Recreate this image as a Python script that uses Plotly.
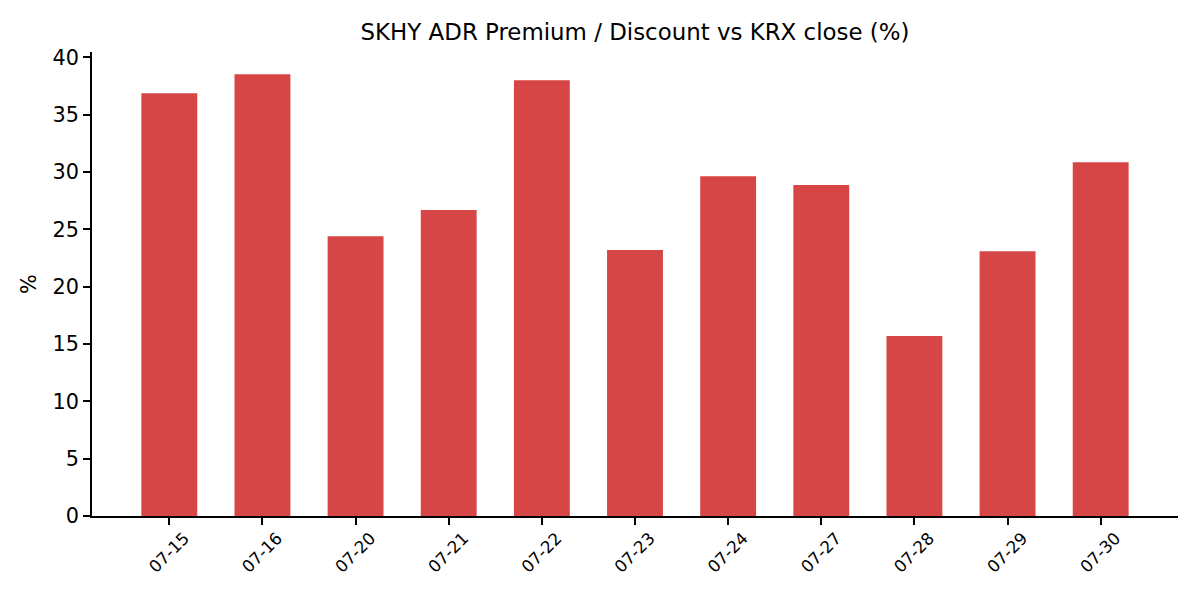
import plotly.graph_objects as go

# Daily ADR premium / discount against KRX close
dates = ["07-15", "07-16", "07-20", "07-21", "07-22", "07-23",
         "07-24", "07-27", "07-28", "07-29", "07-30"]
premium_pct = [36.88, 38.54, 24.41, 26.68, 38.01, 23.19,
               29.64, 28.86, 15.69, 23.10, 30.86]
y_ticks = [0, 5, 10, 15, 20, 25, 30, 35, 40]

fig = go.Figure(
    go.Bar(
        x=list(range(len(dates))),
        y=premium_pct,
        width=0.6,
        marker=dict(color="#d64646", line=dict(width=0)),
    )
)

# page body adds ~8px offset, so margins are shifted to compensate
fig.update_layout(
    width=1200,
    height=600,
    paper_bgcolor="white",
    plot_bgcolor="white",
    font=dict(family="DejaVu Sans", color="black"),
    title=dict(
        text="SKHY ADR Premium / Discount vs KRX close (%)",
        xref="paper", x=0.5, xanchor="center", y=0.96, yanchor="middle",
        font=dict(size=22.9),
    ),
    margin=dict(l=84, r=30, t=44, b=92),
    showlegend=False,
)

fig.update_xaxes(
    range=[-0.83, 10.83],
    tickmode="array",
    tickvals=list(range(len(dates))),
    ticktext=dates,
    tickangle=-45,
    tickfont=dict(size=16.7),
    ticklabelshift=15,
    ticklabelstandoff=-3,
    ticks="outside", ticklen=7, tickwidth=1.6, tickcolor="black",
    showline=True, linecolor="black", linewidth=1.6,
    showgrid=False, zeroline=False,
)

fig.update_yaxes(
    range=[0, 40.47],
    tickmode="array",
    tickvals=y_ticks,
    tickfont=dict(size=20.8),
    ticks="outside", ticklen=7, tickwidth=1.6, tickcolor="black",
    showline=True, linecolor="black", linewidth=1.6,
    showgrid=False, zeroline=False,
    title=dict(text="%", font=dict(size=20.8), standoff=10),
)

fig.write_html("out.html")
